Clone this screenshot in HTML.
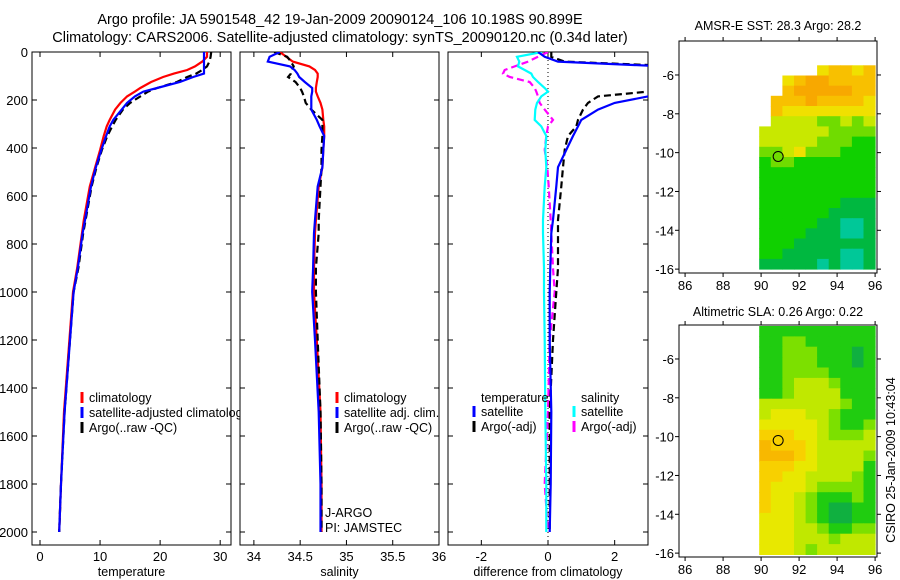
<!DOCTYPE html>
<html><head><meta charset="utf-8"><style>
body{margin:0;background:#fff;}
svg{display:block;font-family:"Liberation Sans",sans-serif;}
</style></head><body>
<svg id="c" width="900" height="580">
<text x="340" y="24" font-size="14.5" text-anchor="middle">Argo profile: JA 5901548_42 19-Jan-2009 20090124_106 10.198S 90.899E</text>
<text x="340" y="42" font-size="14.5" text-anchor="middle">Climatology: CARS2006. Satellite-adjusted climatology: synTS_20090120.nc (0.34d later)</text>
<text x="778" y="30" font-size="12.5" text-anchor="middle">AMSR-E SST: 28.3 Argo: 28.2</text>
<text x="778" y="316" font-size="12.5" text-anchor="middle">Altimetric SLA: 0.26 Argo: 0.22</text>
<text transform="translate(895,460) rotate(-90)" font-size="12.5" text-anchor="middle">CSIRO 25-Jan-2009 10:43:04</text>
</svg>
<script>
// ---------- data ----------
const depths = [0,20,40,60,75,90,104,125,150,165,185,212,240,283,310,350,408,480,560,700,755,900,1000,1200,1500,1800,2000];
const tempClim  = [27.8,27.8,27.0,25.8,24.5,22.3,20.5,18.5,16.7,15.8,14.5,13.4,12.5,11.6,11.1,10.6,10.0,9.2,8.3,7.3,7.0,6.2,5.5,4.9,4.0,3.5,3.2];
const tempSat   = [27.3,27.3,27.3,27.3,27.3,27.3,25.5,23.3,19.5,17.2,15.8,14.5,13.6,12.2,11.6,11.0,10.2,9.3,8.5,7.5,7.1,6.3,5.6,5.0,4.1,3.5,3.2];
const tempArgo  = [28.5,28.4,28.2,27.8,27.0,26.0,24.5,22.8,19.5,18.0,16.7,15.0,13.8,12.6,12.0,11.2,10.3,9.4,8.6,7.6,7.2,6.4,5.6,5.0,4.1,3.5,3.2];
const salClim   = [34.28,34.35,34.42,34.6,34.66,34.69,34.69,34.68,34.67,34.67,34.69,34.72,34.74,34.75,34.76,34.76,34.75,34.74,34.70,34.67,34.66,34.65,34.65,34.68,34.72,34.73,34.73];
const salSat    = [34.28,34.17,34.15,34.39,34.44,34.47,34.49,34.55,34.63,34.63,34.62,34.62,34.62,34.68,34.71,34.76,34.75,34.74,34.69,34.66,34.65,34.64,34.63,34.66,34.70,34.72,34.72];
const salArgo   = [34.22,34.36,34.40,34.43,34.41,34.40,34.37,34.45,34.50,34.52,34.54,34.56,34.62,34.74,34.74,34.74,34.73,34.73,34.72,34.70,34.70,34.67,34.67,34.69,34.72,34.73,34.73];
const dTempSat  = [-0.3,-0.1,0.3,3.5,5,5,4.8,4.5,4,3.6,3.0,2.0,1.5,1.0,0.9,0.75,0.55,0.3,0.25,0.15,0.1,0.07,0.05,0.05,0.1,0.08,0.05];
const dTempArgo = [0.1,0.1,0.5,4,5,5,5,5,4,3.0,1.5,1.2,1.05,0.9,0.85,0.6,0.5,0.45,0.4,0.3,0.3,0.3,0.25,0.15,0.05,0.05,0.05];
const dSalSat   = [-0.18,-0.93,-0.86,-0.9,-0.7,-0.5,-0.45,-0.3,-0.1,0,-0.2,-0.33,-0.38,-0.4,-0.2,-0.05,-0.08,-0.05,-0.1,-0.15,-0.15,-0.12,-0.12,-0.1,-0.08,-0.05,-0.05];
const dSalArgo  = [0,-0.3,-0.6,-1.0,-1.3,-1.35,-1.15,-0.55,-0.4,-0.35,-0.3,-0.25,-0.1,0.15,0,-0.05,-0.1,-0.02,0.02,0.08,0.1,0.15,0.2,0.05,0.0,-0.1,0.0];
const depthTicks = [0,200,400,600,800,1000,1200,1400,1600,1800,2000];
const tempTicks = [0,10,20,30];
const salTicks = [34,34.5,35,35.5,36];
const salTickLabels = ["34","34.5","35","35.5","36"];
const diffTicks = [-2,0,2];
const lonTicks = [86,88,90,92,94,96];
const latTicks = [-6,-8,-10,-12,-14,-16];
// SST grid: 10 cols lon 89.9..96, 20 rows lat -5.5..-16 ; value index into palette
const sstRows = [
[null,null,null,null,null,5,6,6,5,6],
[null,null,5,6,7,7,6,6,6,6],
[null,null,6,7,7,7,7,7,6,6],
[null,6,6,6,7,6,6,6,6,5],
[null,6,5,5,5,5,5,5,5,5],
[null,4,4,4,4,3,3,4,3,4],
[4,4,4,4,4,4,3,3,3,3],
[4,4,4,4,4,3,3,3,2,2],
[3,3,4,5,3,3,3,2,2,2],
[2,3,3,2,2,2,2,2,2,2],
[2,2,2,2,2,2,2,2,2,2],
[2,2,2,2,2,2,2,2,2,2],
[2,2,2,2,2,2,2,2,2,2],
[2,2,2,2,2,2,2,1,1,1],
[2,2,2,2,2,2,1,1,1,1],
[2,2,2,2,2,1,1,0,0,1],
[2,2,2,2,1,1,1,0,0,1],
[2,2,2,1,1,1,1,1,1,1],
[2,2,1,1,1,1,1,0,0,1],
[1,1,1,1,1,0,1,0,0,1]];
const slaRows = [
[1,1,1,1,1,1,1,1,1,1],[1,1,2,2,1,1,1,1,1,1],[1,1,2,2,2,1,1,1,0,1],[1,1,2,2,2,1,1,1,0,1],
[1,1,2,2,2,2,1,1,1,1],[1,1,2,3,3,3,2,1,1,1],[1,1,2,3,3,3,3,1,1,1],[3,3,3,3,3,3,3,2,1,1],
[3,4,4,4,3,3,2,1,1,1],[4,4,4,4,4,3,2,1,1,2],[5,5,5,4,4,3,2,2,2,3],[6,5,5,5,4,3,3,3,3,3],
[6,6,6,5,4,3,3,3,3,2],[5,5,5,4,4,3,3,3,3,1],[5,5,4,4,3,3,3,3,2,1],[5,4,4,4,3,2,2,2,2,1],
[5,4,4,3,2,1,1,1,2,1],[5,4,4,3,2,1,0,0,1,1],[4,4,4,3,2,1,0,0,1,1],[4,4,4,3,3,2,1,1,2,2],
[4,4,4,3,3,3,2,3,3,3],[4,4,4,3,2,3,3,3,3,3]];
const argoLon = 90.899, argoLat = -10.198;

const NS="http://www.w3.org/2000/svg";
const svg=document.getElementById('c');
function mk(tag,attrs,parent){const e=document.createElementNS(NS,tag);for(const k in attrs)e.setAttribute(k,attrs[k]);(parent||svg).appendChild(e);return e;}
const yD = d => 52 + d*0.24;

function panel(name,x0,x1,vmin,vmax,ticks,labels,xlabel,showY){
  const sx = v => x0 + (v-vmin)/(vmax-vmin)*(x1-x0);
  const g=mk('g',{});
  
  
  const cp=mk('clipPath',{id:'cp'+name},g);
  mk('rect',{x:x0,y:52,width:x1-x0,height:493},cp);
  mk('rect',{x:x0,y:52,width:x1-x0,height:493,fill:'#fff',stroke:'#000','stroke-width':1},g);
  depthTicks.forEach(d=>{const y=yD(d);
    mk('line',{x1:x0,x2:x0+5,y1:y,y2:y,stroke:'#000'},g);mk('line',{x1:x1-5,x2:x1,y1:y,y2:y,stroke:'#000'},g);
    if(showY){const t=mk('text',{x:x0-4,y:y+5,'font-size':13,'text-anchor':'end'},g);t.textContent=d;
      
      }
  });
  ticks.forEach((v,i)=>{const x=sx(v);
    mk('line',{x1:x,x2:x,y1:545,y2:540,stroke:'#000'},g);mk('line',{x1:x,x2:x,y1:52,y2:57,stroke:'#000'},g);
    const t=mk('text',{x:x,y:561,'font-size':13,'text-anchor':'middle'},g);t.textContent=labels[i];
    
    
  });
  const xl=mk('text',{x:(x0+x1)/2,y:576,'font-size':12.5,'text-anchor':'middle'},g);xl.textContent=xlabel;
  
  
  const inner=mk('g',{'clip-path':'url(#cp'+name+')'},g);
  return {sx,g,inner};
}
function series(p,vals,color,dash,name){
  const pts=vals.map((v,i)=>p.sx(v).toFixed(1)+','+yD(depths[i]).toFixed(1)).join(' ');
  const l=mk('polyline',{points:pts,fill:'none',stroke:color,'stroke-width':2.2,'stroke-dasharray':dash||'none'},p.inner);
  
  
}
function legend(g,x,y,color,label,name){
  mk('line',{x1:x,x2:x,y1:y-10,y2:y+1,stroke:color,'stroke-width':3},g);
  const t=mk('text',{x:x+7,y:y,'font-size':12.5},g);t.textContent=label;
  
  
}

const p1=panel('temperature-panel',32,231,-1.33,31.8,tempTicks,tempTicks.map(String),'temperature',true);
series(p1,tempClim,'#f00',null,'temp-climatology-line');
series(p1,tempArgo,'#000','7,4','temp-argo-line');
series(p1,tempSat,'#00f',null,'temp-satellite-line');
legend(svg,82,402,'#f00','climatology','legend-climatology');
legend(svg,82,417,'#00f','satellite-adjusted climatology','legend-satellite-adjusted');
legend(svg,82,432,'#000','Argo(..raw -QC)','legend-argo');

const p2=panel('salinity-panel',240,439,33.85,36.0,salTicks,salTickLabels,'salinity',false);
series(p2,salClim,'#f00',null,'sal-climatology-line');
series(p2,salArgo,'#000','7,4','sal-argo-line');
series(p2,salSat,'#00f',null,'sal-satellite-line');
legend(p2.g,337,402,'#f00','climatology','legend2-climatology');
legend(p2.g,337,417,'#00f','satellite adj. clim.','legend2-satellite');
legend(p2.g,337,432,'#000','Argo(..raw -QC)','legend2-argo');
let t=mk('text',{x:325,y:517,'font-size':12.5},p2.g);t.textContent='J-ARGO';


t=mk('text',{x:325,y:532,'font-size':12.5},p2.g);t.textContent='PI: JAMSTEC';



const p3=panel('difference-panel',448,648,-3,3,diffTicks,diffTicks.map(String),'difference from climatology',false);
mk('line',{x1:p3.sx(0),x2:p3.sx(0),y1:52,y2:545,stroke:'#000','stroke-dasharray':'1,3'},p3.inner);
series(p3,dSalArgo,'#f0f','7,4','diff-sal-argo-line');
series(p3,dSalSat,'#0ff',null,'diff-sal-satellite-line');
series(p3,dTempArgo,'#000','7,4','diff-temp-argo-line');
series(p3,dTempSat,'#00f',null,'diff-temp-satellite-line');
t=mk('text',{x:481,y:402,'font-size':12.5},p3.g);t.textContent='temperature';


legend(p3.g,474,416,'#00f','satellite','legend3-temp-satellite');
legend(p3.g,474,431,'#000','Argo(-adj)','legend3-temp-argo');
t=mk('text',{x:581,y:402,'font-size':12.5},p3.g);t.textContent='salinity';


legend(p3.g,574,416,'#0ff','satellite','legend3-sal-satellite');
legend(p3.g,574,431,'#f0f','Argo(-adj)','legend3-sal-argo');

// ---------- maps ----------
const sstPal=['#00c898','#00b840','#10d000','#70dc00','#c8e800','#f0e000','#f8c000','#f8a800'];
const slaPal=['#10b040','#20cc10','#7ce000','#c0e800','#e8e800','#f8d000','#f8b800'];
function mapPanel(name,top,rows,pal,latTop,rowH){
  const L=679,R=877,B=top+232;
  const lx=v=>L+(v-85.68)/(96.1-85.68)*(R-L);
  const ly=v=>top+(v-(-4.25))/(-16.2-(-4.25))*(B-top);
  const g=mk('g',{});
  
  
  mk('rect',{x:L,y:top,width:R-L,height:B-top,fill:'#fff'},g);
  const cw=(96.0-89.9)/10;
  rows.forEach((row,j)=>row.forEach((v,i)=>{ if(v===null)return;
    const x=lx(89.9+i*cw), x2=lx(89.9+(i+1)*cw), y=ly(latTop-j*rowH), y2=ly(latTop-(j+1)*rowH);
    const r=mk('rect',{x:x.toFixed(1),y:y.toFixed(1),width:(x2-x+0.5).toFixed(1),height:(y2-y+0.5).toFixed(1),fill:pal[v]},g);
    
    
  }));
  mk('rect',{x:L,y:top,width:R-L,height:B-top,fill:'none',stroke:'#000'},g);
  lonTicks.forEach(v=>{const x=lx(v);mk('line',{x1:x,x2:x,y1:top,y2:top-4,stroke:'#000'},g);mk('line',{x1:x,x2:x,y1:B,y2:B+4,stroke:'#000'},g);
    const tt=mk('text',{x:x,y:B+17,'font-size':13,'text-anchor':'middle'},g);tt.textContent=v;
    
    });
  latTicks.forEach(v=>{const y=ly(v);mk('line',{x1:L,x2:L-4,y1:y,y2:y,stroke:'#000'},g);mk('line',{x1:R,x2:R+4,y1:y,y2:y,stroke:'#000'},g);
    const tt=mk('text',{x:L-5,y:y+5,'font-size':13,'text-anchor':'end'},g);tt.textContent=v;
    
    });
  const c=mk('circle',{cx:lx(argoLon),cy:ly(argoLat),r:5,fill:'none',stroke:'#000','stroke-width':1},g);
  
  
}
mapPanel('sst-map',41,sstRows,sstPal,-5.5,0.525);
mapPanel('sla-map',325,slaRows,slaPal,-4.3,0.535);
</script>
</body></html>
